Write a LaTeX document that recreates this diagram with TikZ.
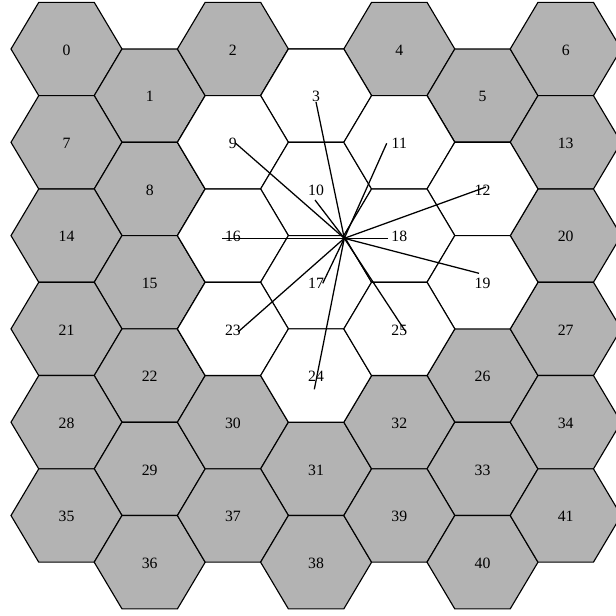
\documentclass[tikz,border=0pt]{standalone}
\usepackage{fontspec}
\setmainfont{Liberation Serif}
\definecolor{cellgrey}{RGB}{179,179,179}

\begin{document}
\begin{tikzpicture}[
  x=0.75pt, y=-0.75pt,
  cell/.style={draw, line width=0.85pt, line join=miter},
  num/.style={font=\fontsize{11.8}{13}\selectfont, inner sep=0pt, yshift=-0.8pt},
  ray/.style={line width=0.95pt},
  pics/hexcell/.style={code={
    \draw[cell, fill=#1] (-55.5,0) -- (-27.75,-46.65) -- (27.75,-46.65)
      -- (55.5,0) -- (27.75,46.65) -- (-27.75,46.65) -- cycle;}},
]
\useasboundingbox (0,0) rectangle (616,615);
\clip (0,0) rectangle (616,615);

% ---- cell centres: 7 columns x 6 rows, odd columns shifted down ----
\foreach \n in {0,...,41}{
  \pgfmathtruncatemacro{\col}{mod(\n,7)}
  \pgfmathtruncatemacro{\row}{div(\n,7)}
  \pgfmathsetmacro{\cx}{66.5+83.2*\col}
  \pgfmathsetmacro{\cy}{49+93.3*\row+46.65*mod(\col,2)}
  \coordinate (h\n) at (\cx,\cy);
}

% ---- outer ring (grey), then the inner cells (white) ----
\foreach \n in {0,...,41}
  \pic at (h\n) {hexcell=cellgrey};
\foreach \n in {3,9,10,11,12,16,17,18,19,23,24,25}
  \pic at (h\n) {hexcell=white};

% ---- cell numbers ----
\foreach \n in {0,...,41}
  \node[num] (c\n) at (h\n) {\n};

% ---- rays from the shared corner ----
\coordinate (hub) at (344.3,238.3);
\coordinate (u3)  at (316,102);
\coordinate (u9)  at (235.7,143.3);
\coordinate (u10) at (315,200);
\coordinate (u11) at (386.7,143.3);
\coordinate (u12) at (486,187);
\coordinate (u16) at (221.7,238.3);
\coordinate (u17) at (322.7,283.3);
\coordinate (u18) at (388.3,238.3);
\coordinate (u19) at (479,273.3);
\coordinate (u23) at (238.3,331.7);
\coordinate (u24) at (314.3,389.3);
\coordinate (u25) at (405,330.7);
\foreach \k in {3,9,10,11,12,16,17,18,19,23,24,25}
  \draw[ray] (hub) -- (u\k);

\end{tikzpicture}
\end{document}
